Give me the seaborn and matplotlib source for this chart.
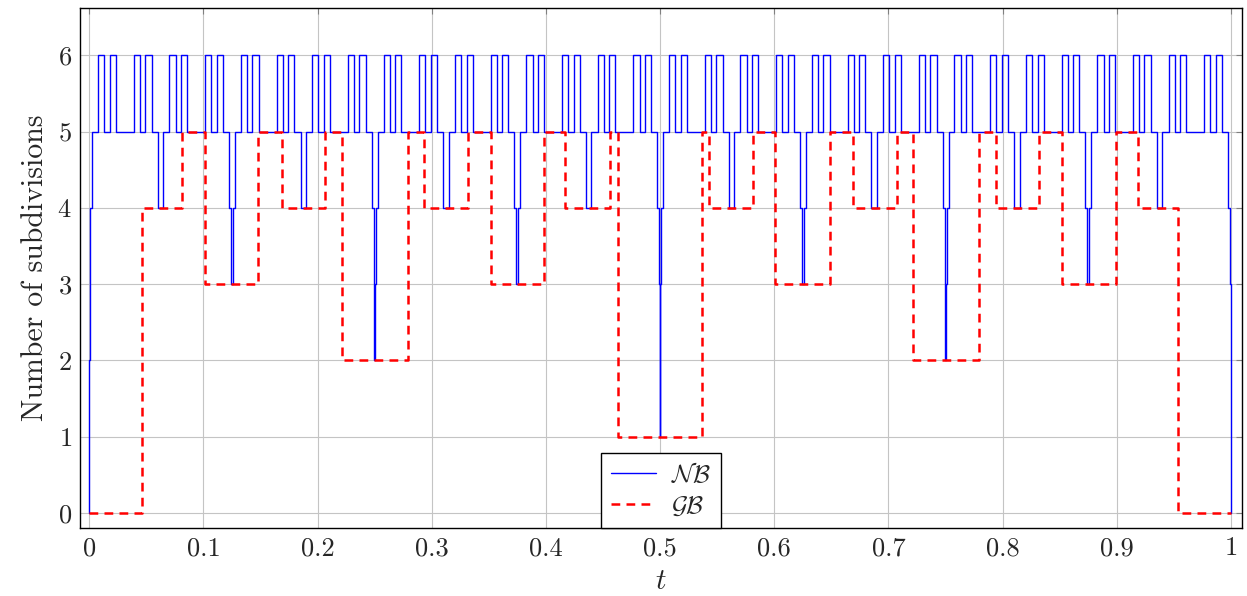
import matplotlib
matplotlib.use("Agg")
import matplotlib.pyplot as plt
from matplotlib.lines import Line2D
import seaborn as sns
import pandas as pd

# NB: intervals where the count is 6, base level is 5
nb_six = [
    (0.0078, 0.0133), (0.0180, 0.0234), (0.0391, 0.0445), (0.0492, 0.0547),
    (0.0703, 0.0758), (0.0805, 0.0859), (0.1016, 0.1070), (0.1117, 0.1172),
    (0.1328, 0.1383), (0.1430, 0.1484), (0.1641, 0.1695), (0.1742, 0.1797),
    (0.1953, 0.2008), (0.2055, 0.2109), (0.2266, 0.2320), (0.2367, 0.2422),
    (0.2578, 0.2633), (0.2680, 0.2734), (0.2891, 0.2945), (0.2992, 0.3047),
    (0.3203, 0.3258), (0.3305, 0.3359), (0.3516, 0.3570), (0.3617, 0.3672),
    (0.3828, 0.3883), (0.3930, 0.3984), (0.4141, 0.4195), (0.4242, 0.4297),
    (0.4453, 0.4508), (0.4555, 0.4609), (0.4766, 0.4820), (0.4867, 0.4922),
    (0.5078, 0.5133), (0.5180, 0.5234), (0.5391, 0.5445), (0.5492, 0.5547),
    (0.5703, 0.5758), (0.5805, 0.5859), (0.6016, 0.6070), (0.6117, 0.6172),
    (0.6328, 0.6383), (0.6430, 0.6484), (0.6641, 0.6695), (0.6742, 0.6797),
    (0.6953, 0.7008), (0.7055, 0.7109), (0.7266, 0.7320), (0.7367, 0.7422),
    (0.7578, 0.7633), (0.7680, 0.7734), (0.7891, 0.7945), (0.7992, 0.8047),
    (0.8203, 0.8258), (0.8305, 0.8359), (0.8516, 0.8570), (0.8617, 0.8672),
    (0.8828, 0.8883), (0.8930, 0.8984), (0.9141, 0.9195), (0.9242, 0.9297),
    (0.9453, 0.9508), (0.9555, 0.9609), (0.9766, 0.9820), (0.9867, 0.9922),
]

# NB: dips below 5 (start, end, level)
nb_dips = [
    (0.0, 0.0026, 4), (0.0, 0.0009, 3), (0.0, 0.0003, 2), (0.0, 0.0001, 1), (0.0, 0.00003, 0),
    (0.0601, 0.0649, 4),
    (0.1224, 0.1276, 4), (0.1241, 0.1259, 3),
    (0.1851, 0.1899, 4),
    (0.2474, 0.2526, 4), (0.2491, 0.2509, 3), (0.2497, 0.2503, 2),
    (0.3101, 0.3149, 4),
    (0.3724, 0.3776, 4), (0.3741, 0.3759, 3),
    (0.4351, 0.4399, 4),
    (0.4974, 0.5026, 4), (0.4991, 0.5009, 3), (0.4997, 0.5003, 2), (0.4999, 0.5001, 1),
    (0.5601, 0.5649, 4),
    (0.6224, 0.6276, 4), (0.6241, 0.6259, 3),
    (0.6851, 0.6899, 4),
    (0.7474, 0.7526, 4), (0.7491, 0.7509, 3), (0.7497, 0.7503, 2),
    (0.8101, 0.8149, 4),
    (0.8724, 0.8776, 4), (0.8741, 0.8759, 3),
    (0.9351, 0.9399, 4),
    (0.9974, 1.0, 4), (0.9991, 1.0, 3), (0.9997, 1.0, 2), (0.9999, 1.0, 1), (0.99997, 1.0, 0),
]

# GB: step edges and levels
gb_edges = [0.0, 0.046, 0.0812, 0.1016, 0.148, 0.1687, 0.2067, 0.221, 0.2795,
            0.2936, 0.3315, 0.3517, 0.3984, 0.4168, 0.456, 0.4635, 0.5365,
            0.5432, 0.5817, 0.6007, 0.6489, 0.6687, 0.7072, 0.7213, 0.7796,
            0.794, 0.8322, 0.8517, 0.899, 0.9188, 0.9539, 1.0]
gb_levels = [0, 4, 5, 3, 5, 4, 5, 2, 5, 4, 5, 3, 5, 4, 5, 1, 5, 4, 5, 3, 5, 4,
             5, 2, 5, 4, 5, 3, 5, 4, 0]

x_ticks = [0, 0.1, 0.2, 0.3, 0.4, 0.5, 0.6, 0.7, 0.8, 0.9, 1]
x_labels = ["0", "0.1", "0.2", "0.3", "0.4", "0.5", "0.6", "0.7", "0.8", "0.9", "1"]
y_ticks = [0, 1, 2, 3, 4, 5, 6]

# build NB step series from the intervals
edges = {0.0, 1.0}
for a, b in nb_six:
    edges.update([a, b])
for a, b, _ in nb_dips:
    edges.update([a, b])
edges = sorted(edges)
nb_x, nb_y = [], []
for a, b in zip(edges[:-1], edges[1:]):
    m = 0.5 * (a + b)
    lev = 5
    if any(p <= m < q for p, q in nb_six):
        lev = 6
    for p, q, l in nb_dips:
        if p <= m < q:
            lev = min(lev, l)
    nb_x.append(a)
    nb_y.append(lev)
nb_x.append(1.0)
nb_y.append(0)
nb_df = pd.DataFrame({"t": nb_x, "n": nb_y})
gb_df = pd.DataFrame({"t": gb_edges, "n": gb_levels + [gb_levels[-1]]})

sns.set_style("white")
plt.rcParams["font.family"] = "serif"
plt.rcParams["font.serif"] = ["cmr10", "DejaVu Serif"]
plt.rcParams["mathtext.fontset"] = "cm"
plt.rcParams["axes.formatter.use_mathtext"] = True

fig = plt.figure(figsize=(12.47, 5.96), dpi=100)
ax = fig.add_axes([0.0642, 0.114, 0.9318, 0.8726])

sns.lineplot(data=nb_df, x="t", y="n", ax=ax, color="blue", lw=1.0,
             drawstyle="steps-post", estimator=None, sort=False, zorder=2)
sns.lineplot(data=gb_df, x="t", y="n", ax=ax, color="red", lw=1.8,
             linestyle=(0, (3.5, 2.5)), drawstyle="steps-post",
             estimator=None, sort=False, zorder=3)

ax.set_xlim(-0.008, 1.0096)
ax.set_ylim(-0.2, 6.62)
ax.set_xticks(x_ticks)
ax.set_xticklabels(x_labels)
ax.set_yticks(y_ticks)
ax.grid(True, color="#c4c4c4", lw=0.8)
ax.set_axisbelow(True)
ax.tick_params(direction="in", length=4, color="#808080", labelsize=19,
               top=True, right=True, pad=6)
for s in ax.spines.values():
    s.set_color("black")
    s.set_linewidth(1.0)

ax.set_xlabel("$t$", fontsize=21, labelpad=6)
ax.set_ylabel("Number of subdivisions", fontsize=21.5, labelpad=6)

handles = [Line2D([], [], color="blue", lw=1.0),
           Line2D([], [], color="red", lw=1.8, linestyle=(0, (3.5, 2.5)))]
leg = ax.legend(handles, [r"$\mathcal{NB}$", r"$\mathcal{GB}$"],
                loc="lower center", bbox_to_anchor=(0.5, 0.0), borderaxespad=0,
                fontsize=18, handlelength=1.8, fancybox=False, framealpha=1,
                edgecolor="black", borderpad=0.4, labelspacing=0.3,
                handletextpad=0.6)
leg.get_frame().set_linewidth(1.0)

fig.savefig("out.png", dpi=100)
